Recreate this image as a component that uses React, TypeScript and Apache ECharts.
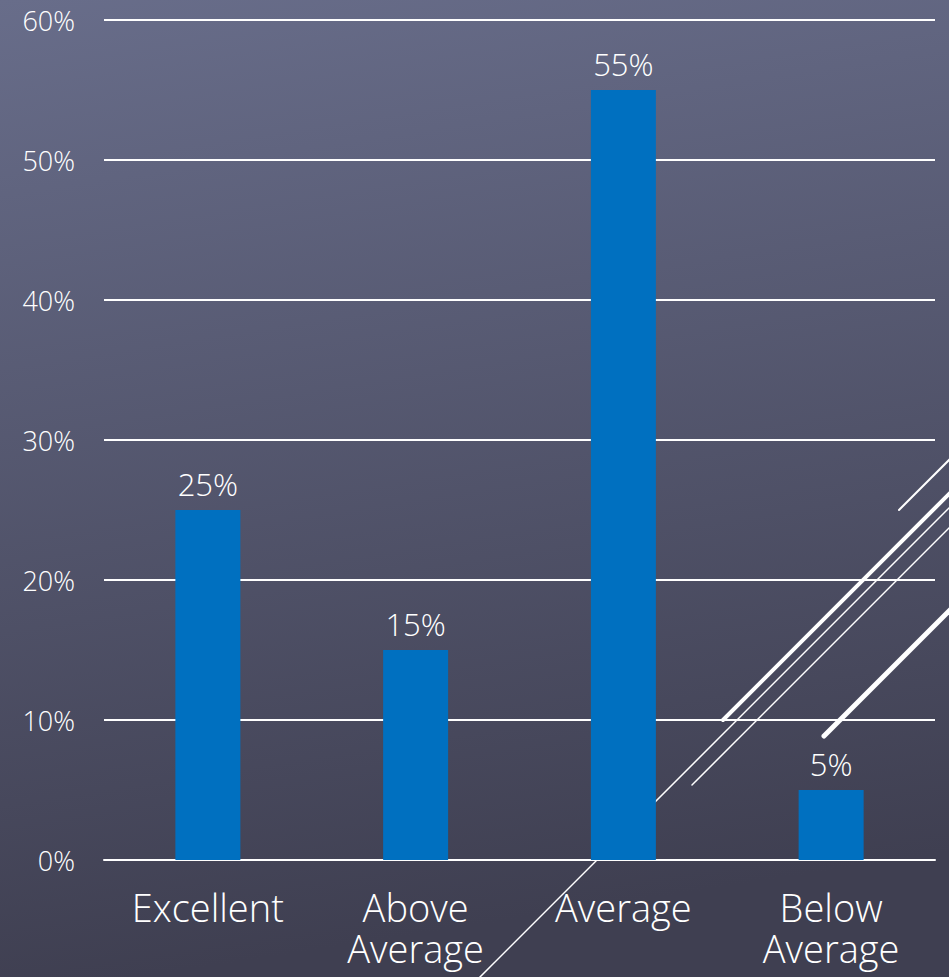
import React, { useEffect, useRef } from "react";
import * as echarts from "echarts";

const categories = ["Excellent", "Above\nAverage", "Average", "Below\nAverage"];
const values = [25, 15, 55, 5];
const yTicks = { min: 0, max: 60, interval: 10 };

export default function App() {
  const ref = useRef<HTMLDivElement>(null);
  useEffect(() => {
    document.body.style.margin = "0";
    const chart = echarts.init(ref.current!, null, { renderer: "svg" });
    const font = "'Century Gothic', 'Open Sans', sans-serif";
    const deco = (x1: number, y1: number, x2: number, y2: number, w: number) => ({
      type: "line",
      z: 1,
      silent: true,
      shape: { x1, y1, x2, y2 },
      style: { stroke: "#ffffff", lineWidth: w, lineCap: "round" },
    });
    chart.setOption({
      animation: false,
      backgroundColor: {
        type: "linear",
        x: 0,
        y: 0,
        x2: 0.15,
        y2: 1,
        colorStops: [
          { offset: 0, color: "#686d8a" },
          { offset: 1, color: "#3f3f51" },
        ],
      },
      grid: { left: 104, right: 14, top: 20, bottom: 117, containLabel: false },
      xAxis: {
        type: "category",
        data: categories,
        axisLine: { show: true, lineStyle: { color: "#ffffff", width: 2 } },
        axisTick: { show: false },
        axisLabel: {
          color: "#ffffff",
          fontFamily: font,
          fontWeight: 300,
          fontSize: 38,
          lineHeight: 41,
          margin: 26,
          interval: 0,
        },
      },
      yAxis: {
        type: "value",
        min: yTicks.min,
        max: yTicks.max,
        interval: yTicks.interval,
        axisLine: { show: false },
        axisTick: { show: false },
        splitLine: { lineStyle: { color: "#ffffff", width: 2 } },
        axisLabel: {
          color: "#ffffff",
          fontFamily: font,
          fontWeight: 300,
          fontSize: 27,
          margin: 29,
          formatter: "{value}%",
        },
      },
      series: [
        {
          type: "bar",
          data: values,
          barWidth: 65,
          itemStyle: { color: "#0070c0" },
          z: 3,
          label: {
            show: true,
            position: "top",
            distance: 11,
            color: "#ffffff",
            fontFamily: font,
            fontWeight: 300,
            fontSize: 31,
            formatter: "{c}%",
          },
        },
      ],
      graphic: [
        deco(475, 982, 955, 502, 1.5),
        deco(692, 785, 955, 522, 1.5),
        deco(723, 720, 955, 488, 4),
        deco(899, 510, 955, 454, 2),
        deco(824, 736, 955, 605, 5),
      ],
    });
    return () => chart.dispose();
  }, []);
  return (
    <div
      ref={ref}
      style={{ position: "absolute", left: 0, top: 0, width: 949, height: 977 }}
    />
  );
}
